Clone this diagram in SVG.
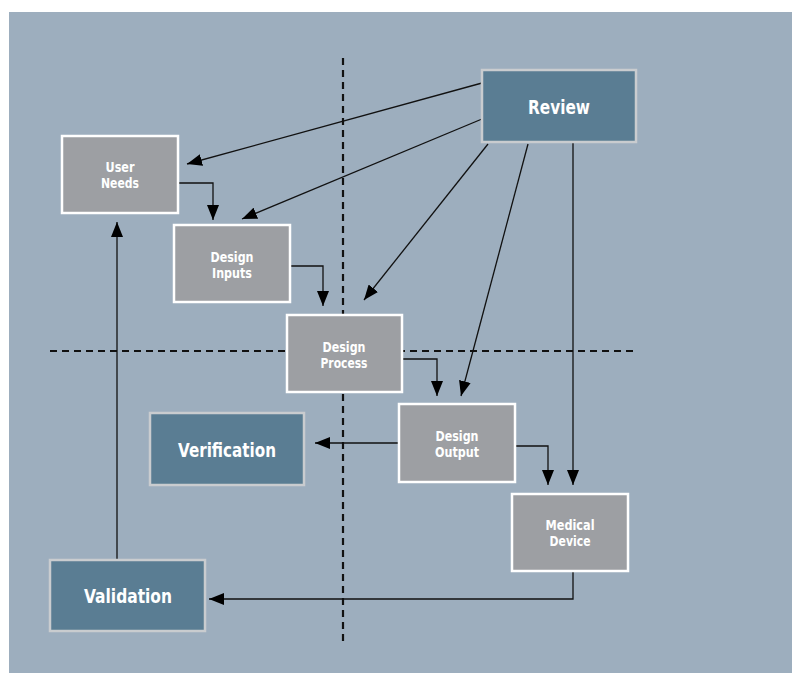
<svg xmlns="http://www.w3.org/2000/svg" width="792" height="673" viewBox="0 0 792 673">
<style>
.g rect{fill:#9d9fa3;stroke:#ffffff;stroke-width:2.5}
.b rect{fill:#5a7d93;stroke:#c9cccf;stroke-width:2.5}
text{font-family:"DejaVu Sans",sans-serif;font-weight:bold;fill:#ffffff;text-anchor:middle}
.s{font-size:14px}
.l{font-size:19px}
.c{fill:none;stroke:#111111;stroke-width:1.3}
.d{fill:none;stroke:#111111;stroke-width:2.2;stroke-dasharray:7,5}
</style>
<defs>
<marker id="ah" markerWidth="15" markerHeight="12" refX="15" refY="6" orient="auto" markerUnits="userSpaceOnUse">
<path d="M0,0 L15,6 L0,12 Z" fill="#000000"/>
</marker>
</defs>
<rect x="9" y="12" width="783" height="661" fill="#9daebe"/>
<g id="guides">
<line class="d" x1="343" y1="58" x2="343" y2="646"/>
<line class="d" x1="50" y1="351" x2="637" y2="351"/>
</g>
<g id="connectors">
<line class="c" x1="482" y1="83" x2="187" y2="164" marker-end="url(#ah)"/>
<line class="c" x1="482" y1="119" x2="242" y2="219" marker-end="url(#ah)"/>
<line class="c" x1="488" y1="144" x2="364" y2="300" marker-end="url(#ah)"/>
<line class="c" x1="528" y1="144" x2="461" y2="396" marker-end="url(#ah)"/>
<line class="c" x1="573" y1="143" x2="573" y2="485" marker-end="url(#ah)"/>
<polyline class="c" points="178,183 213,183 213,220" marker-end="url(#ah)"/>
<polyline class="c" points="290,266 323,266 323,306" marker-end="url(#ah)"/>
<polyline class="c" points="402,359 437,359 437,396" marker-end="url(#ah)"/>
<polyline class="c" points="515,446 548,446 548,485" marker-end="url(#ah)"/>
<line class="c" x1="399" y1="443" x2="315" y2="443" marker-end="url(#ah)"/>
<polyline class="c" points="573,571 573,599 209,599" marker-end="url(#ah)"/>
<line class="c" x1="117" y1="560" x2="117" y2="222" marker-end="url(#ah)"/>
</g>
<g id="user-needs" class="g"><rect x="62" y="136" width="116" height="77"/><text class="s" x="120" y="172" textLength="29" lengthAdjust="spacingAndGlyphs">User</text><text class="s" x="120" y="188" textLength="38" lengthAdjust="spacingAndGlyphs">Needs</text></g>
<g id="design-inputs" class="g"><rect x="174" y="225" width="116" height="77"/><text class="s" x="232" y="262" textLength="43" lengthAdjust="spacingAndGlyphs">Design</text><text class="s" x="232" y="278" textLength="40" lengthAdjust="spacingAndGlyphs">Inputs</text></g>
<g id="design-process" class="g"><rect x="287" y="315" width="115" height="77"/><text class="s" x="344" y="352" textLength="43" lengthAdjust="spacingAndGlyphs">Design</text><text class="s" x="344" y="368" textLength="47" lengthAdjust="spacingAndGlyphs">Process</text></g>
<g id="design-output" class="g"><rect x="399" y="404" width="116" height="78"/><text class="s" x="457" y="441" textLength="43" lengthAdjust="spacingAndGlyphs">Design</text><text class="s" x="457" y="457" textLength="44" lengthAdjust="spacingAndGlyphs">Output</text></g>
<g id="medical-device" class="g"><rect x="512" y="494" width="116" height="77"/><text class="s" x="570" y="530" textLength="49" lengthAdjust="spacingAndGlyphs">Medical</text><text class="s" x="570" y="546" textLength="41" lengthAdjust="spacingAndGlyphs">Device</text></g>
<g id="review" class="b"><rect x="482" y="70" width="154" height="72"/><text class="l" x="559" y="114" textLength="62" lengthAdjust="spacingAndGlyphs">Review</text></g>
<g id="verification" class="b"><rect x="150" y="413" width="154" height="72"/><text class="l" x="227" y="457" textLength="98" lengthAdjust="spacingAndGlyphs">Verification</text></g>
<g id="validation" class="b"><rect x="50" y="560" width="155" height="71"/><text class="l" x="128" y="603" textLength="88" lengthAdjust="spacingAndGlyphs">Validation</text></g>
</svg>
